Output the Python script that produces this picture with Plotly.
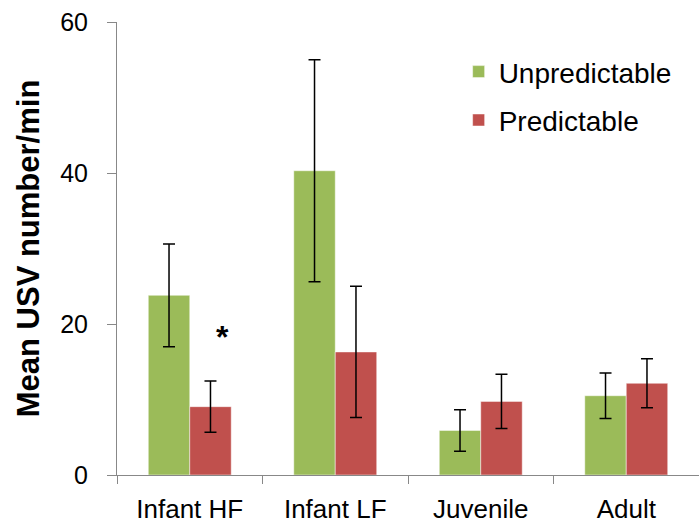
import plotly.graph_objects as go

categories = ["Infant HF", "Infant LF", "Juvenile", "Adult"]
unpredictable = [23.8, 40.3, 5.9, 10.5]
unpredictable_err = [6.8, 14.7, 2.75, 3.0]
predictable = [9.05, 16.3, 9.75, 12.15]
predictable_err = [3.4, 8.7, 3.6, 3.25]
y_ticks = [0, 20, 40, 60]

FONT = "Liberation Sans, Arial, sans-serif"

fig = go.Figure()
fig.add_trace(go.Bar(
    x=categories, y=unpredictable, name="Unpredictable",
    marker=dict(color="#9BBB59", line=dict(color="rgba(255,255,255,0.6)", width=0.8)),
    error_y=dict(type="data", array=unpredictable_err, color="black", thickness=1.5, width=6),
    legendgroup="a",
))
fig.add_trace(go.Bar(
    x=categories, y=predictable, name="Predictable",
    marker=dict(color="#C0504D", line=dict(color="rgba(255,255,255,0.6)", width=0.8)),
    error_y=dict(type="data", array=predictable_err, color="black", thickness=1.5, width=6),
    legendgroup="b",
))

fig.add_annotation(
    x="Infant HF", y=18.8, xref="x", yref="y", text="<b>*</b>", showarrow=False,
    xshift=33, yshift=-4, font=dict(family=FONT, size=32, color="black"),
)

fig.update_layout(
    width=699, height=525,
    margin=dict(l=117, r=0, t=22, b=50, autoexpand=False),
    paper_bgcolor="white", plot_bgcolor="white",
    barmode="group", bargap=0.43, bargroupgap=0,
    font=dict(family=FONT, color="black"),
    showlegend=True,
    legend=dict(
        x=0.587, y=0.945, xanchor="left", yanchor="top",
        font=dict(family=FONT, size=28, color="black"),
        bgcolor="rgba(0,0,0,0)", tracegroupgap=9, traceorder="grouped",
    ),
    xaxis=dict(
        range=[-0.5, 3.5], showline=True, linecolor="#888888", linewidth=1,
        ticks="outside", tickson="boundaries", ticklen=8, tickcolor="#888888",
        tickfont=dict(family=FONT, size=26, color="black"), showgrid=False,
        ticklabelstandoff=11, automargin=False,
    ),
    yaxis=dict(
        range=[0, 60], tickvals=y_ticks, showline=True, linecolor="#888888", linewidth=1,
        ticks="outside", ticklen=9, tickcolor="#888888", showgrid=False, zeroline=False,
        tickfont=dict(family=FONT, size=25, color="black"), ticklabelstandoff=14,
        automargin=False,
        title=dict(text="<b>Mean USV number/min</b>", font=dict(family=FONT, size=31, color="black"), standoff=11),
    ),
)

fig.write_html("out.html", config={"displayModeBar": False},
               post_script="document.body.style.margin='0';")
